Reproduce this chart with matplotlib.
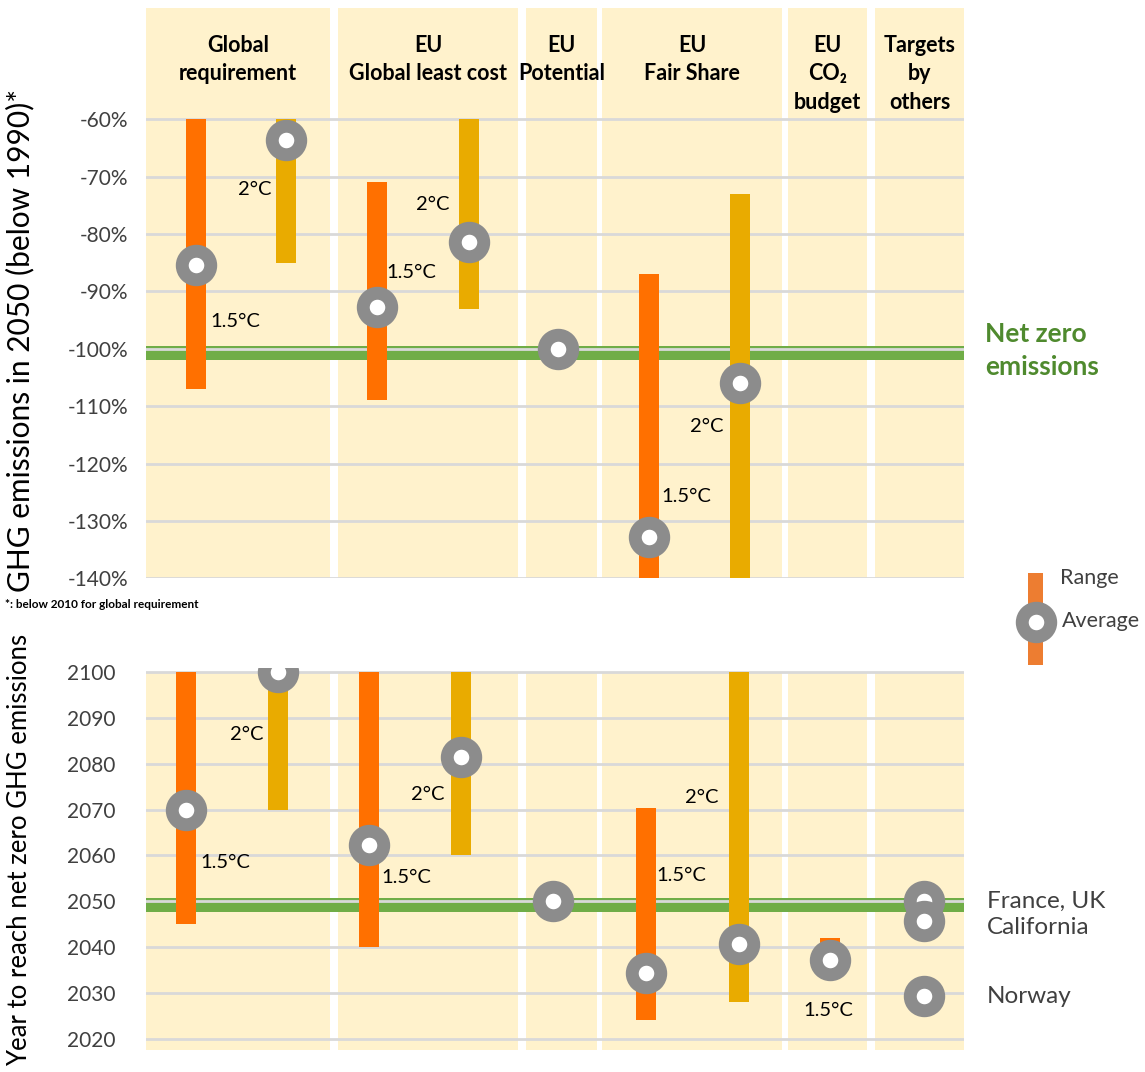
import matplotlib.pyplot as plt
import numpy as np

W, H = 1145, 1072

# --- data -------------------------------------------------------------
categories = ['Global\nrequirement', 'EU\nGlobal least cost', 'EU\nPotential',
              'EU\nFair Share', 'EU\nCO\u2082\nbudget', 'Targets\nby\nothers']

# 2050 reduction below 1990 (%); order: Global 1.5, Global 2, GLC 1.5, GLC 2, Potential, FS 1.5, FS 2
top_temp = ['1.5°C', '2°C', '1.5°C', '2°C', None, '1.5°C', '2°C']
top_low = [-107, -85, -109, -93, np.nan, -140, -140]
top_high = [-60, -60, -71, -60, np.nan, -87, -73]
top_avg = [-85.5, -63.7, -92.8, -81.4, -100, -132.8, -106]

# year to reach net zero; same order + CO2 budget 1.5
bot_temp = ['1.5°C', '2°C', '1.5°C', '2°C', None, '1.5°C', '2°C', '1.5°C']
bot_low = [2045, 2070, 2040, 2060, np.nan, 2024, 2028, 2034]
bot_high = [2100, 2100, 2100, 2100, np.nan, 2070.4, 2100, 2042]
bot_avg = [2070, 2100, 2062.2, 2081.5, 2050, 2034.4, 2040.7, 2037.2]

others = ['France, UK', 'California', 'Norway']
others_year = [2050, 2045.6, 2029.3]

top_ticks = [-60, -70, -80, -90, -100, -110, -120, -130, -140]
bot_ticks = [2100, 2090, 2080, 2070, 2060, 2050, 2040, 2030, 2020]

# --- layout (pixel units across the plot) ----------------------------
bands = [(146, 330), (338, 518), (526, 597), (602, 782), (788, 867), (875, 964)]
top_x = [196, 286, 377, 469, 558, 649, 740]
bot_x = [186, 278, 369, 461, 553, 646, 739, 830]
others_x = 924
others_dy = [0, -4, 0]
# label anchors (x, value) for the temperature tags
top_tag = [(210, -95.3), (238, -72.2), (386, -86.7), (416, -74.8), None, (661, -125.8), (690, -113.6)]
bot_tag = [(200, 2058.5), (230, 2086.4), (381, 2055.2), (411, 2073.3), None,
           (656, 2055.7), (685, 2072.7), (803, 2026.1)]

ORANGE = '#FF7000'
GOLD = '#E9AB00'
GREY = '#8C8C8C'
BAND = '#FFF2CC'
GREEN = '#70AD47'
GRID = '#D9D9D9'
TXT = '#404040'
FONT = ['Lato', 'DejaVu Sans']

plt.rcParams['font.family'] = FONT

fig = plt.figure(figsize=(W / 100, H / 100), dpi=100)


def px_axes(x0, y0, x1, y1):
    return fig.add_axes([x0 / W, 1 - y1 / H, (x1 - x0) / W, (y1 - y0) / H])


def ring(ax, x, y, **kw):
    ax.plot(x, y, 'o', ms=20.5, mew=9.3, mec=GREY, mfc='white', zorder=4, **kw)


def style(ax, ticks, fmt, pad):
    ax.set_xlim(146, 964)
    ax.set_yticks(ticks)
    ax.set_yticklabels([fmt(t) for t in ticks])
    ax.set_xticks([])
    ax.tick_params(axis='y', length=0, pad=pad, labelsize=15, labelcolor=TXT)
    ax.set_axisbelow(True)
    ax.grid(axis='y', color=GRID, lw=2)
    for s in ax.spines.values():
        s.set_visible(False)


col = {'1.5°C': ORANGE, '2°C': GOLD}

# --- top panel --------------------------------------------------------
ax1 = px_axes(146, 8, 964, 578.3)
ax1.set_ylim(-140, -40.64)
style(ax1, top_ticks, lambda t: f'{t}%', 13)
for x0, x1 in bands:
    ax1.axvspan(x0, x1, color=BAND, zorder=0.1, lw=0)
ax1.axhspan(-102, -99.6, color=GREEN, zorder=0.3, lw=0)

for i, t in enumerate(top_temp):
    if t is not None:
        ax1.bar(top_x[i], top_high[i] - top_low[i], width=20, bottom=top_low[i],
                color=col[t], zorder=2)
        tx, ty = top_tag[i]
        ax1.text(tx, ty, t, fontsize=14.5, va='center', ha='left', color='black', zorder=5)
    ring(ax1, top_x[i], top_avg[i])

head_y = [-47.1, -52.0, -57.1]
for (x0, x1), name in zip(bands, categories):
    for k, line in enumerate(name.split('\n')):
        ax1.text((x0 + x1) / 2, head_y[k], line, ha='center', va='center',
                 fontsize=15.5, fontweight='bold', color='black')

ax1.text(985, -97.5, 'Net zero', ha='left', va='center', fontsize=19,
         fontweight='bold', color='#4F8A2E', clip_on=False)
ax1.text(985, -103.2, 'emissions', ha='left', va='center', fontsize=19,
         fontweight='bold', color='#4F8A2E', clip_on=False)

# --- bottom panel -----------------------------------------------------
ax2 = px_axes(146, 668, 964, 1049)
ax2.set_ylim(2017.76, 2100.93)
style(ax2, bot_ticks, lambda t: f'{t}', 22)
for x0, x1 in bands:
    ax2.fill_between([x0, x1], 2000, 2100, color=BAND, zorder=0.1, lw=0)
ax2.axhspan(2047.7, 2050.65, color=GREEN, zorder=0.3, lw=0)

for i, t in enumerate(bot_temp):
    if t is not None:
        ax2.bar(bot_x[i], bot_high[i] - bot_low[i], width=20, bottom=bot_low[i],
                color=col[t], zorder=2)
        tx, ty = bot_tag[i]
        ax2.text(tx, ty, t, fontsize=14.5, va='center', ha='left', color='black', zorder=5)
    ring(ax2, bot_x[i], bot_avg[i])

for name, yr, dy in zip(others, others_year, others_dy):
    ring(ax2, others_x, yr)
    ax2.annotate(name, (987, yr), xytext=(0, dy), textcoords='offset points',
                 ha='left', va='center', fontsize=17.5, color=TXT, annotation_clip=False)

# --- overlay: axis titles, footnote and legend -----------------------
ov = fig.add_axes([0, 0, 1, 1])
ov.set_xlim(0, W)
ov.set_ylim(H, 0)
ov.axis('off')
ov.text(20, 340, 'GHG emissions in 2050 (below 1990)*', rotation=90, fontsize=21.5,
        ha='center', va='center', color='black')
ov.text(20, 850, 'Year to reach net zero GHG emissions', rotation=90, fontsize=18.5,
        ha='center', va='center', color='black')
ov.text(5, 604, '*: below 2010 for global requirement', fontsize=8.5, fontweight='bold',
        va='center', ha='left', color='black')
ov.bar(1035, 92, width=15, bottom=573, color='#ED7D31')
ring(ov, 1036, 622)
ov.text(1060, 578, 'Range', fontsize=15.5, va='center', ha='left', color=TXT)
ov.text(1062, 621, 'Average', fontsize=15.5, va='center', ha='left', color=TXT)

fig.savefig('out.png', dpi=100)
